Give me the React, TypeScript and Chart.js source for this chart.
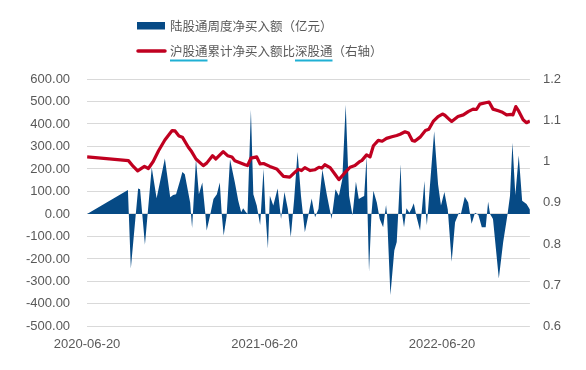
import React, { useEffect, useRef } from "react";
import { Chart, registerables } from "chart.js";

Chart.register(...registerables);

const BASE_DATE = "2020-06-20";
const xTickDays = [0, 365, 730];
const xMaxDay = 911;

const legendLabels = ["陆股通周度净买入额（亿元）", "沪股通累计净买入额比深股通（右轴）"];

// weekly northbound net buy (亿元), x = days since BASE_DATE
const flowDays = [0, 84, 90, 105, 109, 119, 133, 143, 160, 171, 177, 183, 191, 196, 201, 212, 216, 224, 230, 237, 243, 246, 253, 260, 267, 273, 277, 281, 287, 294, 304, 311, 317, 321, 326, 330, 337, 342, 349, 356, 363, 367, 372, 376, 383, 392, 399, 406, 413, 419, 426, 433, 440, 448, 455, 462, 469, 476, 484, 493, 503, 511, 518, 525, 532, 539, 546, 553, 559, 565, 570, 575, 577, 580, 585, 589, 596, 602, 609, 615, 617, 624, 632, 637, 640, 645, 648, 652, 657, 663, 668, 672, 678, 685, 694, 697, 699, 714, 722, 728, 735, 742, 750, 757, 765, 769, 777, 784, 791, 798, 805, 812, 820, 825, 829, 835, 847, 856, 865, 870, 875, 881, 888, 895, 904, 911];
const flowValues = [0, 106, -243, 113, 110, -137, 206, 70, 246, 74, 84, 88, 147, 187, 176, 51, -63, 243, 88, 140, 7, -74, -7, 66, 88, 140, 0, -96, -10, 243, 140, 59, 7, 25, 10, 0, 463, 88, 37, -49, 201, 0, -154, 81, 37, 113, -22, 98, 22, -103, 66, 275, 81, -81, -7, 69, -15, 22, 198, 88, -22, 110, 81, 154, 485, 81, -7, 143, 66, 74, 80, 257, 0, -257, 0, 103, 51, -22, -59, 40, 0, -360, -162, -125, 0, 221, 0, -59, 25, 5, 25, 47, -15, -74, 147, 0, -50, 368, 132, 37, 98, 20, -213, -37, 5, 0, 76, 51, -44, 5, -5, -59, -59, 54, 0, -22, -287, -125, 0, 81, 316, 84, 260, 59, 44, 20];

// SH-connect cumulative net buy / SZ-connect (right axis)
const ratioDays = [0, 85, 95, 104, 118, 126, 136, 147, 160, 175, 181, 189, 196, 208, 215, 224, 239, 246, 258, 265, 280, 289, 298, 304, 325, 330, 337, 349, 356, 363, 376, 390, 404, 417, 424, 434, 441, 448, 459, 469, 477, 483, 489, 500, 510, 518, 529, 541, 551, 561, 565, 575, 582, 589, 599, 607, 616, 627, 637, 644, 654, 661, 669, 674, 685, 696, 703, 712, 722, 731, 736, 746, 750, 763, 774, 784, 794, 801, 808, 822, 827, 835, 846, 853, 863, 873, 876, 882, 888, 897, 904, 911];
const ratioValues = [1.011, 1.002, 0.988, 0.977, 0.988, 0.983, 1.0, 1.026, 1.052, 1.075, 1.074, 1.062, 1.059, 1.035, 1.024, 1.006, 0.99, 0.996, 1.014, 1.006, 1.024, 1.014, 1.011, 1.002, 0.992, 0.99, 1.008, 1.011, 0.994, 0.995, 0.988, 0.982, 0.964, 0.962, 0.97, 0.981, 0.978, 0.985, 0.978, 0.98, 0.986, 0.984, 0.992, 0.985, 0.969, 0.956, 0.971, 0.986, 0.99, 1.0, 1.002, 1.016, 1.011, 1.038, 1.051, 1.049, 1.056, 1.06, 1.063, 1.066, 1.072, 1.069, 1.051, 1.049, 1.059, 1.075, 1.078, 1.097, 1.109, 1.115, 1.112, 1.101, 1.097, 1.109, 1.113, 1.121, 1.127, 1.126, 1.139, 1.143, 1.144, 1.127, 1.123, 1.12, 1.113, 1.114, 1.113, 1.133, 1.122, 1.101, 1.094, 1.098];

const BLUE = "#064a85";
const RED = "#c00020";
const TEXT = "#595959";
const GRID = "#d9d9d9";
const UNDERLINE = "#1fb0d4";
const CJK_FONT = "'Noto Sans CJK SC', 'Noto Sans', sans-serif";

function dayLabel(d: number): string {
  const base = Date.parse(BASE_DATE + "T00:00:00Z");
  return new Date(base + d * 86400000).toISOString().slice(0, 10);
}

const legendPlugin = {
  id: "customLegend",
  afterDraw(chart: any) {
    const ctx = chart.ctx as CanvasRenderingContext2D;
    ctx.save();
    ctx.fillStyle = BLUE;
    ctx.fillRect(129, 14, 28, 7.5);
    ctx.font = `12.5px ${CJK_FONT}`;
    ctx.fillStyle = TEXT;
    ctx.textBaseline = "middle";
    ctx.textAlign = "left";
    const tx = 162;
    ctx.fillText(legendLabels[0], tx, 18);
    ctx.strokeStyle = RED;
    ctx.lineWidth = 3.5;
    ctx.lineCap = "round";
    ctx.beginPath();
    ctx.moveTo(130, 43);
    ctx.lineTo(157, 43);
    ctx.stroke();
    ctx.fillStyle = TEXT;
    ctx.fillText(legendLabels[1], tx, 43.5);
    const s = legendLabels[1];
    const w3 = ctx.measureText(s.slice(0, 3)).width;
    const w10 = ctx.measureText(s.slice(0, 10)).width;
    const w13 = ctx.measureText(s.slice(0, 13)).width;
    ctx.strokeStyle = UNDERLINE;
    ctx.lineWidth = 1.8;
    ctx.lineCap = "butt";
    ctx.beginPath();
    ctx.moveTo(tx, 52.5);
    ctx.lineTo(tx + w3, 52.5);
    ctx.moveTo(tx + w10, 52.5);
    ctx.lineTo(tx + w13, 52.5);
    ctx.stroke();
    ctx.restore();
  },
};

export default function App() {
  const ref = useRef<HTMLCanvasElement | null>(null);

  useEffect(() => {
    if (!ref.current) return;
    Chart.defaults.font.family = "'Liberation Sans', Arial, sans-serif";
    const flowData = flowDays.map((d, i) => ({ x: d, y: flowValues[i] }));
    const ratioData = ratioDays.map((d, i) => ({ x: d, y: ratioValues[i] }));

    const chart = new Chart(ref.current, {
      type: "line",
      data: {
        datasets: [
          {
            label: legendLabels[1],
            data: ratioData,
            yAxisID: "y2",
            borderColor: RED,
            borderWidth: 3.2,
            pointRadius: 0,
            tension: 0,
            fill: false,
            borderJoinStyle: "round",
          },
          {
            label: legendLabels[0],
            data: flowData,
            yAxisID: "y",
            borderColor: BLUE,
            backgroundColor: BLUE,
            borderWidth: 0,
            pointRadius: 0,
            tension: 0,
            fill: "origin",
          },
        ],
      },
      options: {
        responsive: false,
        animation: false,
        layout: { padding: { left: 1, right: 4, top: 71, bottom: 0 } },
        plugins: {
          legend: { display: false },
          tooltip: { enabled: false },
        },
        scales: {
          x: {
            type: "linear",
            min: 0,
            max: xMaxDay,
            grid: { display: false, drawTicks: false },
            border: { display: false },
            afterBuildTicks: (scale: any) => {
              scale.ticks = xTickDays.map((v) => ({ value: v }));
            },
            ticks: {
              autoSkip: false,
              maxRotation: 0,
              padding: 10,
              color: TEXT,
              font: { size: 13 },
              callback: (v: any) => dayLabel(Number(v)),
            },
          },
          y: {
            position: "left",
            min: -500,
            max: 600,
            grid: { color: GRID, lineWidth: 1, drawTicks: false },
            border: { display: false },
            ticks: {
              stepSize: 100,
              padding: 17,
              color: TEXT,
              font: { size: 13 },
              callback: (v: any) => Number(v).toFixed(2),
            },
          },
          y2: {
            position: "right",
            min: 0.6,
            max: 1.2,
            grid: { display: false, drawTicks: false },
            border: { display: false },
            ticks: {
              stepSize: 0.1,
              padding: 13,
              color: TEXT,
              font: { size: 13 },
              callback: (v: any) => String(Number(Number(v).toFixed(1))),
            },
          },
        },
      },
      plugins: [legendPlugin],
    } as any);

    return () => chart.destroy();
  }, []);

  return (
    <div style={{ width: 570, height: 354 }}>
      <canvas ref={ref} width={570} height={354} />
    </div>
  );
}
